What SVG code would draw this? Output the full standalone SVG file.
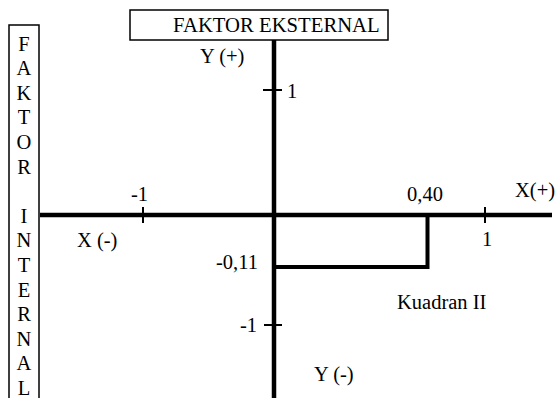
<svg xmlns="http://www.w3.org/2000/svg" width="556" height="398" viewBox="0 0 556 398">
<style>
text{font-family:"Liberation Serif","Times New Roman",serif;font-size:20.5px;fill:#000}
.box{fill:#fff;stroke:#000;stroke-width:1.5}
.axis{stroke:#000;stroke-width:4.5;fill:none}
.tick{stroke:#000;stroke-width:2}
.res{stroke:#000;stroke-width:4;fill:none}
.e{text-anchor:end}
.m{text-anchor:middle}
</style>
<rect width="556" height="398" fill="#fff"/>
<g id="faktor-internal">
<rect class="box" x="9" y="25" width="30" height="380"/>
<text class="m" x="24" y="50.5">F</text>
<text class="m" x="24" y="75.1">A</text>
<text class="m" x="24" y="99.7">K</text>
<text class="m" x="24" y="124.3">T</text>
<text class="m" x="24" y="148.9">O</text>
<text class="m" x="24" y="173.5">R</text>
<text class="m" x="24" y="222.7">I</text>
<text class="m" x="24" y="247.3">N</text>
<text class="m" x="24" y="271.9">T</text>
<text class="m" x="24" y="296.5">E</text>
<text class="m" x="24" y="321.1">R</text>
<text class="m" x="24" y="345.7">N</text>
<text class="m" x="24" y="370.3">A</text>
<text class="m" x="24" y="394.9">L</text>
</g>
<g id="faktor-eksternal">
<rect class="box" x="130" y="10" width="258" height="30"/>
<text x="173" y="32" style="font-size:20.7px">FAKTOR EKSTERNAL</text>
</g>
<g id="connectors">
<line class="axis" x1="274" y1="40" x2="274" y2="398"/>
<line class="axis" x1="40" y1="215" x2="552" y2="215"/>
<line class="tick" x1="263" y1="90" x2="282" y2="90"/>
<line class="tick" x1="264" y1="325" x2="282" y2="325"/>
<line class="tick" x1="143" y1="207" x2="143" y2="223"/>
<line class="tick" x1="485" y1="207" x2="485" y2="223"/>
<polyline class="res" points="274,267 427.5,267 427.5,215"/>
</g>
<g id="labels">
<text x="200" y="63">Y (+)</text>
<text x="287" y="98">1</text>
<text x="131" y="200.5">-1</text>
<text x="77" y="247">X (-)</text>
<text class="e" x="258" y="269">-0,11</text>
<text class="e" x="257" y="332">-1</text>
<text x="407" y="201">0,40</text>
<text x="515" y="197">X(+)</text>
<text x="482" y="246">1</text>
<text x="397" y="309">Kuadran II</text>
<text x="314" y="381">Y (-)</text>
</g>
</svg>
